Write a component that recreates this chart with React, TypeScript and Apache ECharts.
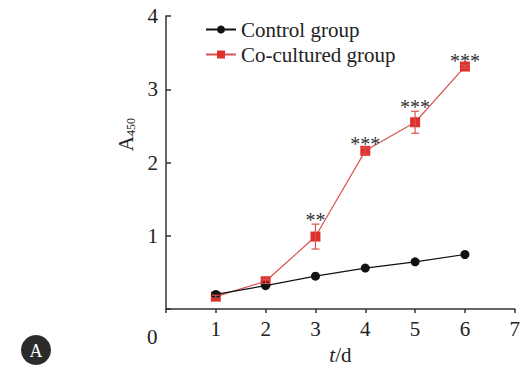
import React, { useEffect, useRef } from "react";
import * as echarts from "echarts";

const days = [1, 2, 3, 4, 5, 6];
const controlValues = [0.2, 0.32, 0.45, 0.56, 0.645, 0.745];
const coValues = [0.17, 0.38, 0.99, 2.16, 2.55, 3.31];
const coErrors = [0.02, 0.03, 0.17, 0.04, 0.15, 0.02];
const stars = ["", "", "**", "***", "***", "***"];
const yTicks = [0, 1, 2, 3, 4];
const xTicks = [0, 1, 2, 3, 4, 5, 6, 7];

const FONT = "Liberation Serif, Times New Roman, serif";
const RED_LINE = "#d9534f";
const RED = "#e0302c";
const BLACK = "#111111";

export default function App() {
  const ref = useRef<HTMLDivElement>(null);
  useEffect(() => {
    if (!ref.current) return;
    const chart = echarts.init(ref.current, undefined, { renderer: "svg" });
    const errData = days.map((d, i) => [d, coValues[i] - coErrors[i], coValues[i] + coErrors[i], i]);
    const txt = (size: number, extra: any = {}) => ({ fontFamily: FONT, fontSize: size, color: "#222", ...extra });
    chart.setOption({
      animation: false,
      backgroundColor: "#ffffff",
      textStyle: { fontFamily: FONT },
      grid: { left: 166, right: 7, top: 16, bottom: 52, containLabel: false },
      legend: {
        orient: "vertical",
        left: 200,
        top: 14,
        itemWidth: 30,
        itemHeight: 10,
        itemGap: 4,
        textStyle: txt(21),
        data: ["Control group", "Co-cultured group"],
      },
      xAxis: {
        type: "value",
        min: 0,
        max: 7,
        interval: 1,
        name: "{i|t}{n|/d}",
        nameLocation: "middle",
        nameGap: 33,
        nameTextStyle: {
          rich: {
            i: txt(21, { fontStyle: "italic" }),
            n: txt(21),
          },
        },
        axisLine: { lineStyle: { color: "#333", width: 1.5 } },
        axisTick: { inside: false, length: 4, lineStyle: { color: "#333", width: 1.5 } },
        axisLabel: {
          ...txt(21),
          margin: 9,
          formatter: (v: number) => (v === 0 ? "" : String(v)),
          customValues: xTicks,
        },
        splitLine: { show: false },
      },
      yAxis: {
        type: "value",
        min: 0,
        max: 4,
        interval: 1,
        name: "{a|A}{s|450}",
        nameLocation: "middle",
        nameGap: 27,
        nameRotate: 90,
        nameTextStyle: {
          padding: [0, 0, 0, 56],
          rich: {
            a: txt(21),
            s: txt(12, { verticalAlign: "bottom", padding: [10, 0, 0, 0] }),
          },
        },
        axisLine: { show: true, lineStyle: { color: "#333", width: 1.5 } },
        axisTick: { show: true, inside: true, length: 5, lineStyle: { color: "#333", width: 1.5 } },
        axisLabel: {
          ...txt(21),
          margin: 8,
          formatter: (v: number) => (v === 0 ? "" : String(v)),
          customValues: yTicks,
        },
        splitLine: { show: false },
      },
      graphic: [
        {
          type: "text",
          left: 147,
          top: 326,
          style: { text: "0", font: `21px ${FONT}`, fill: "#222" },
        },
        {
          type: "circle",
          shape: { cx: 36, cy: 350, r: 15 },
          style: { fill: "#2b2b2b" },
        },
        {
          type: "text",
          x: 36,
          y: 351,
          style: { text: "A", font: `18px ${FONT}`, fill: "#ffffff", align: "center", verticalAlign: "middle" },
        },
      ],
      series: [
        {
          name: "Control group",
          type: "line",
          data: days.map((d, i) => [d, controlValues[i]]),
          symbol: "circle",
          symbolSize: 9,
          lineStyle: { color: BLACK, width: 1.2 },
          itemStyle: { color: BLACK },
          z: 3,
        },
        {
          name: "Co-cultured group",
          type: "line",
          data: days.map((d, i) => [d, coValues[i]]),
          symbol: "rect",
          symbolSize: 10,
          lineStyle: { color: RED_LINE, width: 1.2 },
          itemStyle: { color: RED },
          z: 2,
        },
        {
          type: "custom",
          name: "err",
          data: errData,
          z: 4,
          renderItem: (params: any, api: any) => {
            const x = api.value(0);
            const lo = api.coord([x, api.value(1)]);
            const hi = api.coord([x, api.value(2)]);
            const idx = api.value(3);
            const cap = 4;
            const st = { stroke: RED_LINE, lineWidth: 1.2 };
            const children: any[] = [
              { type: "line", shape: { x1: hi[0], y1: hi[1], x2: lo[0], y2: lo[1] }, style: st },
              { type: "line", shape: { x1: hi[0] - cap, y1: hi[1], x2: hi[0] + cap, y2: hi[1] }, style: st },
              { type: "line", shape: { x1: lo[0] - cap, y1: lo[1], x2: lo[0] + cap, y2: lo[1] }, style: st },
            ];
            const s = stars[idx];
            if (s) {
              children.push({
                type: "text",
                x: hi[0],
                y: hi[1] + 6,
                style: {
                  text: s,
                  font: `20px ${FONT}`,
                  fill: "#333",
                  align: "center",
                  verticalAlign: "bottom",
                },
              });
            }
            return { type: "group", children };
          },
        },
      ],
    });
    return () => chart.dispose();
  }, []);
  return <div ref={ref} style={{ width: 523, height: 370, position: "absolute", left: 0, top: 0 }} />;
}
